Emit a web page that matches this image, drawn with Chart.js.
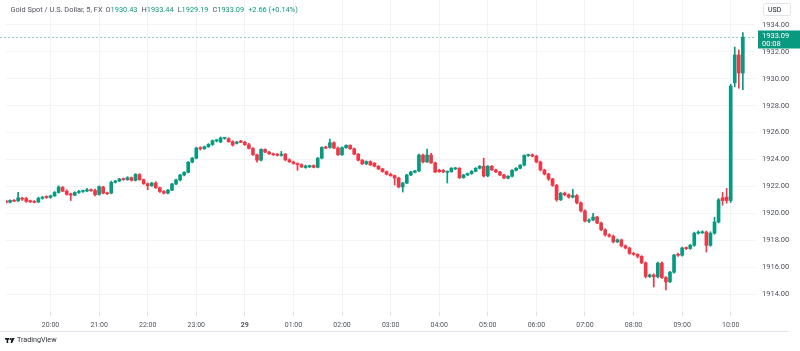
<!DOCTYPE html>
<html>
<head>
<meta charset="utf-8">
<script src="https://cdn.jsdelivr.net/npm/chart.js@4.4.0/dist/chart.umd.min.js"></script>
<style>
  html, body { margin: 0; padding: 0; background: #fff; }
  #wrap { position: relative; width: 800px; height: 351px; }
</style>
</head>
<body>
<div id="wrap"><canvas id="goldChart" width="800" height="351"></canvas></div>
<script>
// 5 minute candles, [open, high, low, close], one array per hour
const s19 = [
    [1920.92, 1920.98, 1920.76, 1920.80], [1920.82, 1921.00, 1920.78, 1920.96], [1920.96, 1921.02, 1920.86, 1920.90],
    [1920.92, 1921.55, 1920.88, 1921.15], [1921.12, 1921.20, 1920.95, 1921.05], [1921.10, 1921.18, 1920.82, 1920.88],
    [1920.90, 1920.98, 1920.80, 1920.86], [1920.88, 1920.95, 1920.78, 1920.82], [1920.84, 1921.20, 1920.80, 1921.12],
    [1921.12, 1921.25, 1921.05, 1921.20], [1921.20, 1921.30, 1921.10, 1921.18]
];
const s20 = [
    [1921.18, 1921.35, 1921.12, 1921.30], [1921.30, 1921.62, 1921.25, 1921.55], [1921.55, 1922.05, 1921.50, 1921.95],
    [1921.92, 1922.00, 1921.60, 1921.65], [1921.65, 1921.75, 1921.35, 1921.40], [1921.45, 1921.50, 1920.95, 1921.35],
    [1921.35, 1921.60, 1921.30, 1921.55], [1921.55, 1921.70, 1921.48, 1921.62], [1921.62, 1921.72, 1921.55, 1921.65],
    [1921.65, 1921.85, 1921.60, 1921.75], [1921.75, 1921.82, 1921.62, 1921.68], [1921.70, 1921.80, 1921.30, 1921.38]
];
const s21 = [
    [1921.40, 1922.05, 1921.35, 1921.98], [1921.95, 1922.00, 1921.45, 1921.50], [1921.50, 1921.58, 1921.40, 1921.45],
    [1921.50, 1922.40, 1921.45, 1922.30], [1922.30, 1922.45, 1922.25, 1922.40], [1922.40, 1922.60, 1922.35, 1922.55],
    [1922.55, 1922.62, 1922.45, 1922.50], [1922.50, 1922.72, 1922.45, 1922.65], [1922.65, 1922.70, 1922.40, 1922.45],
    [1922.45, 1922.95, 1922.40, 1922.90], [1922.88, 1922.95, 1922.45, 1922.50], [1922.50, 1922.55, 1922.15, 1922.20]
];
const s22 = [
    [1922.20, 1922.25, 1921.75, 1922.05], [1922.05, 1922.30, 1922.00, 1922.25], [1922.25, 1922.35, 1921.85, 1921.90],
    [1921.90, 1921.95, 1921.55, 1921.62], [1921.62, 1921.68, 1921.45, 1921.50], [1921.50, 1921.78, 1921.45, 1921.72],
    [1921.72, 1922.22, 1921.68, 1922.18], [1922.18, 1922.55, 1922.12, 1922.48], [1922.48, 1922.90, 1922.40, 1922.85],
    [1922.85, 1923.10, 1922.78, 1923.05], [1923.05, 1923.85, 1923.00, 1923.80], [1923.80, 1924.15, 1923.75, 1924.10]
];
const s23 = [
    [1924.10, 1924.92, 1924.05, 1924.85], [1924.85, 1924.95, 1924.70, 1924.80], [1924.80, 1925.00, 1924.75, 1924.95],
    [1924.95, 1925.18, 1924.90, 1925.12], [1925.12, 1925.45, 1925.05, 1925.40], [1925.38, 1925.50, 1925.30, 1925.45],
    [1925.30, 1925.68, 1925.25, 1925.60], [1925.58, 1925.65, 1925.50, 1925.62], [1925.55, 1925.62, 1925.28, 1925.32],
    [1925.32, 1925.40, 1925.00, 1925.08], [1925.20, 1925.35, 1925.15, 1925.30], [1925.38, 1925.42, 1925.25, 1925.28]
];
const s00 = [
    [1925.28, 1925.35, 1925.05, 1925.10], [1925.10, 1925.20, 1924.78, 1924.82], [1924.82, 1924.88, 1924.30, 1924.35],
    [1924.35, 1924.40, 1923.80, 1923.95], [1923.95, 1924.80, 1923.90, 1924.75], [1924.75, 1924.80, 1924.50, 1924.55],
    [1924.55, 1924.60, 1924.38, 1924.42], [1924.42, 1924.48, 1924.30, 1924.35], [1924.35, 1924.45, 1924.25, 1924.32],
    [1924.30, 1924.60, 1924.25, 1924.40], [1924.40, 1924.45, 1923.90, 1923.98], [1923.98, 1924.05, 1923.78, 1923.82]
];
const s01 = [
    [1923.82, 1923.88, 1923.65, 1923.70], [1923.70, 1923.75, 1923.20, 1923.62], [1923.62, 1923.68, 1923.40, 1923.45],
    [1923.40, 1923.58, 1923.35, 1923.52], [1923.45, 1923.58, 1923.40, 1923.55], [1923.55, 1923.60, 1923.38, 1923.42],
    [1923.42, 1924.15, 1923.38, 1924.10], [1924.10, 1924.95, 1924.05, 1924.90], [1924.92, 1925.00, 1924.80, 1924.85],
    [1924.90, 1925.52, 1924.85, 1925.25], [1925.25, 1925.32, 1924.80, 1924.85], [1924.85, 1924.92, 1924.30, 1924.35]
];
const s02 = [
    [1924.35, 1924.95, 1924.30, 1924.88], [1924.88, 1925.10, 1924.82, 1925.05], [1925.05, 1925.10, 1924.75, 1924.80],
    [1924.80, 1924.85, 1924.35, 1924.40], [1924.40, 1924.45, 1923.90, 1923.95], [1923.95, 1924.00, 1923.62, 1923.68],
    [1923.68, 1923.90, 1923.62, 1923.85], [1923.85, 1923.90, 1923.55, 1923.60], [1923.72, 1923.78, 1923.45, 1923.50],
    [1923.50, 1923.55, 1923.25, 1923.30], [1923.30, 1923.35, 1923.05, 1923.10], [1923.10, 1923.15, 1922.85, 1922.90]
];
const s03 = [
    [1922.90, 1922.98, 1922.75, 1922.80], [1922.80, 1922.85, 1922.10, 1922.62], [1922.62, 1922.68, 1921.90, 1921.96],
    [1921.96, 1922.30, 1921.58, 1922.25], [1922.25, 1922.90, 1922.20, 1922.85], [1922.85, 1923.12, 1922.80, 1923.08],
    [1923.05, 1923.20, 1923.00, 1923.15], [1923.15, 1924.40, 1923.10, 1924.33], [1924.33, 1924.40, 1923.75, 1923.82],
    [1923.82, 1924.78, 1923.78, 1924.33], [1924.33, 1924.45, 1923.70, 1923.75], [1923.75, 1923.80, 1923.02, 1923.07]
];
const s04 = [
    [1923.20, 1923.28, 1923.05, 1923.10], [1923.20, 1923.25, 1923.02, 1923.08], [1923.05, 1923.15, 1922.25, 1923.10],
    [1923.10, 1923.40, 1923.05, 1923.35], [1923.30, 1923.42, 1923.25, 1923.35], [1923.35, 1923.40, 1922.58, 1922.65],
    [1922.65, 1922.90, 1922.60, 1922.85], [1922.85, 1923.00, 1922.80, 1922.95], [1922.95, 1923.18, 1922.90, 1923.12],
    [1923.12, 1923.40, 1923.08, 1923.35], [1923.35, 1923.55, 1923.30, 1923.50], [1923.50, 1924.10, 1922.70, 1922.78]
];
const s05 = [
    [1922.78, 1923.55, 1922.72, 1923.50], [1923.50, 1923.55, 1923.18, 1923.22], [1923.22, 1923.28, 1923.02, 1923.08],
    [1923.08, 1923.12, 1922.80, 1922.85], [1922.85, 1922.90, 1922.58, 1922.62], [1922.62, 1922.80, 1922.55, 1922.75],
    [1922.75, 1923.25, 1922.70, 1923.20], [1923.20, 1923.40, 1923.15, 1923.35], [1923.35, 1923.62, 1923.30, 1923.58],
    [1923.58, 1924.35, 1923.52, 1924.30], [1924.30, 1924.40, 1924.22, 1924.35], [1924.35, 1924.42, 1924.20, 1924.25]
];
const s06 = [
    [1924.25, 1924.32, 1923.75, 1923.82], [1923.82, 1923.88, 1923.15, 1923.22], [1923.22, 1923.28, 1922.85, 1922.92],
    [1922.92, 1922.98, 1922.45, 1922.55], [1922.55, 1922.60, 1922.00, 1922.08], [1922.08, 1922.15, 1920.90, 1921.00],
    [1921.00, 1921.55, 1920.95, 1921.50], [1921.50, 1921.58, 1921.30, 1921.38], [1921.38, 1921.45, 1921.12, 1921.20],
    [1921.20, 1921.78, 1921.15, 1921.32], [1921.32, 1921.40, 1920.70, 1920.78], [1920.78, 1920.85, 1920.10, 1920.18]
];
const s07 = [
    [1920.18, 1920.25, 1919.35, 1919.42], [1919.42, 1919.58, 1919.30, 1919.50], [1919.50, 1920.00, 1919.45, 1919.72],
    [1919.72, 1919.78, 1919.22, 1919.28], [1919.28, 1919.35, 1918.70, 1918.78], [1918.78, 1918.85, 1918.30, 1918.40],
    [1918.40, 1918.48, 1918.22, 1918.30], [1918.30, 1918.38, 1917.80, 1917.88], [1917.88, 1918.10, 1917.82, 1918.02],
    [1918.02, 1918.08, 1917.50, 1917.58], [1917.58, 1917.65, 1917.35, 1917.42], [1917.42, 1917.48, 1916.95, 1917.02]
];
const s08 = [
    [1917.02, 1917.10, 1916.88, 1916.95], [1916.95, 1917.00, 1916.68, 1916.80], [1916.80, 1916.85, 1916.25, 1916.32],
    [1916.32, 1916.38, 1915.20, 1915.30], [1915.30, 1915.48, 1915.22, 1915.42], [1915.42, 1915.50, 1914.52, 1915.28],
    [1915.28, 1916.38, 1915.20, 1916.30], [1916.30, 1916.40, 1915.15, 1915.22], [1915.22, 1915.30, 1914.30, 1914.90],
    [1914.92, 1915.68, 1914.85, 1915.62], [1915.62, 1916.95, 1915.55, 1916.90], [1916.95, 1917.05, 1916.80, 1916.88]
];
const s09 = [
    [1916.88, 1917.48, 1916.82, 1917.42], [1917.45, 1917.50, 1917.30, 1917.38], [1917.38, 1917.70, 1917.32, 1917.62],
    [1917.62, 1918.60, 1917.55, 1918.52], [1918.52, 1918.70, 1918.45, 1918.60], [1918.55, 1918.70, 1918.50, 1918.62],
    [1918.60, 1918.68, 1917.12, 1917.62], [1917.62, 1918.62, 1917.55, 1918.52], [1918.52, 1919.70, 1918.45, 1919.35],
    [1919.35, 1921.10, 1919.28, 1921.00], [1921.15, 1921.55, 1920.60, 1920.95], [1921.20, 1921.85, 1920.75, 1920.95]
];
const s10 = [
    [1920.95, 1929.60, 1920.80, 1929.46], [1929.70, 1932.36, 1929.40, 1931.77], [1931.77, 1932.15, 1929.30, 1930.43],
    [1930.43, 1933.44, 1929.19, 1933.09]
];

const firstCandle = '19:05';
const emptySlots = 3;               // free space right of the last candle
const priceTicks = [1914, 1916, 1918, 1920, 1922, 1924, 1926, 1928, 1930, 1932, 1934];
const dayLabels = { '00:00': '29' };
const symbolTitle = 'Gold Spot / U.S. Dollar, 5, FX';
const countdown = '00:08';

const UP = '#089981';
const DOWN = '#f23645';
const GRID = '#f2f3f5';
const TEXT = '#50535e';
const FONT = 'Roboto, "Noto Sans", sans-serif';

const candles = [].concat(s19, s20, s21, s22, s23, s00, s01, s02, s03, s04, s05, s06, s07, s08, s09, s10);

// category labels, one per 5 minute slot
const labels = [];
const [h0, m0] = firstCandle.split(':').map(Number);
for (let k = 0; k < candles.length + emptySlots; k++) {
    const m = h0 * 60 + m0 + k * 5;
    labels.push(String(Math.floor(m / 60) % 24).padStart(2, '0') + ':' + String(m % 60).padStart(2, '0'));
}
const isHour = i => labels[i] !== undefined && labels[i].endsWith(':00');

const wickData = candles.map(c => [c[2], c[1]]);
const bodyData = candles.map(c => [c[0], c[3]]);
const candleColors = candles.map(c => c[3] >= c[0] ? UP : DOWN);

// pixel layout of the reference: 1934 at y=25, 1914 at y=294, plot 0..312
const plotBottom = 312;
const pxPerUnit = (294 - 25) / 20;
const yMax = 1934 + 25 / pxPerUnit;
const yMin = yMax - plotBottom / pxPerUnit;

const overlay = {
    id: 'overlay',
    afterDraw(chart) {
        const ctx = chart.ctx;
        const area = chart.chartArea;
        const y = chart.scales.y;
        const last = candles[candles.length - 1];
        const prev = candles[candles.length - 2];
        ctx.save();

        // last price line
        const py = Math.round(y.getPixelForValue(last[3])) + 0.5;
        ctx.strokeStyle = 'rgba(8,153,129,0.45)';
        ctx.lineWidth = 1;
        ctx.setLineDash([2, 2]);
        ctx.beginPath();
        ctx.moveTo(0, py);
        ctx.lineTo(area.right, py);
        ctx.stroke();
        ctx.setLineDash([]);

        // last price label
        ctx.fillStyle = UP;
        ctx.fillRect(area.right + 3, py - 7, 42, 18);
        ctx.fillStyle = '#fff';
        ctx.font = '7.5px ' + FONT;
        ctx.textBaseline = 'middle';
        ctx.textAlign = 'left';
        ctx.fillText(last[3].toFixed(2), area.right + 7, py - 1);
        ctx.fillText(countdown, area.right + 7, py + 7);

        // currency box
        ctx.strokeStyle = '#e0e3eb';
        ctx.beginPath();
        ctx.roundRect(763.5, 3.5, 27, 12, 2);
        ctx.stroke();
        ctx.fillStyle = '#131722';
        ctx.font = '7px ' + FONT;
        ctx.fillText('USD', 768, 10);

        // legend line
        const chg = last[3] - prev[3];
        const sign = chg >= 0 ? '+' : '';
        const parts = [
            [symbolTitle, TEXT, 3],
            ['O', TEXT, 0], [last[0].toFixed(2), UP, 4],
            ['H', TEXT, 0], [last[1].toFixed(2), UP, 4],
            ['L', TEXT, 0], [last[2].toFixed(2), UP, 4],
            ['C', TEXT, 0], [last[3].toFixed(2), UP, 4],
            [sign + chg.toFixed(2) + ' (' + sign + (chg / prev[3] * 100).toFixed(2) + '%)', UP, 0]
        ];
        let x = 10.5;
        ctx.font = '7.4px ' + FONT;
        parts.forEach(([txt, col, gap]) => {
            ctx.fillStyle = col;
            ctx.fillText(txt, x, 10);
            x += ctx.measureText(txt).width + gap;
        });

        // bottom frame line
        ctx.strokeStyle = '#e0e3eb';
        ctx.beginPath();
        ctx.moveTo(0, 331.5);
        ctx.lineTo(788, 331.5);
        ctx.stroke();

        // TradingView mark
        ctx.fillStyle = '#131722';
        ctx.fillRect(5, 338, 4, 1.6);
        ctx.fillRect(6.6, 338, 1.6, 5);
        ctx.beginPath();
        ctx.arc(10.3, 339, 0.9, 0, Math.PI * 2);
        ctx.fill();
        ctx.beginPath();
        ctx.moveTo(11.6, 338);
        ctx.lineTo(14.6, 338);
        ctx.lineTo(12.2, 343);
        ctx.lineTo(10.6, 343);
        ctx.closePath();
        ctx.fill();
        ctx.fillStyle = '#2a2e39';
        ctx.font = '7.2px ' + FONT;
        ctx.fillText('TradingView', 17, 340.5);

        ctx.restore();
    }
};

window.onload = function() {
    const canvas = document.getElementById('goldChart');
    new Chart(canvas.getContext('2d'), {
        type: 'bar',
        data: {
            labels: labels,
            datasets: [{
                data: bodyData,
                backgroundColor: candleColors,
                barThickness: 3,
                minBarLength: 1,
                grouped: false,
                borderWidth: 0
            }, {
                data: wickData,
                backgroundColor: candleColors,
                barThickness: 1,
                grouped: false,
                borderWidth: 0
            }]
        },
        options: {
            responsive: false,
            animation: false,
            devicePixelRatio: 1,
            layout: { padding: { left: 6, right: 0, top: 0, bottom: 20 } },
            plugins: {
                legend: { display: false },
                tooltip: { enabled: false }
            },
            scales: {
                x: {
                    offset: false,
                    grid: {
                        offset: false,
                        color: ctx => isHour(ctx.index) ? GRID : 'rgba(0,0,0,0)',
                        tickColor: ctx => isHour(ctx.index) ? '#e0e3eb' : 'rgba(0,0,0,0)',
                        tickLength: 4
                    },
                    border: { display: false },
                    ticks: {
                        autoSkip: false,
                        maxRotation: 0,
                        minRotation: 0,
                        padding: 5,
                        color: TEXT,
                        font: ctx => ({ family: FONT, size: 7, weight: labels[ctx.index] === '00:00' ? 'bold' : 'normal' }),
                        callback: (value, index) => isHour(index) ? (dayLabels[labels[index]] || labels[index]) : ''
                    },
                    afterFit: axis => {
                        axis.height = 19;
                        axis.paddingLeft = 0;
                        axis.paddingRight = 0;
                    }
                },
                y: {
                    position: 'right',
                    min: yMin,
                    max: yMax,
                    grid: { color: GRID, drawTicks: false },
                    border: { display: false },
                    afterBuildTicks: axis => {
                        axis.ticks = priceTicks.map(v => ({ value: v }));
                    },
                    ticks: {
                        padding: 7,
                        color: TEXT,
                        font: { family: FONT, size: 7.5 },
                        callback: v => Number(v).toFixed(2)
                    },
                    afterFit: axis => {
                        axis.width = 45;
                        axis.paddingTop = 0;
                        axis.paddingBottom = 0;
                    }
                }
            }
        },
        plugins: [overlay]
    });
};
</script>
</body>
</html>
